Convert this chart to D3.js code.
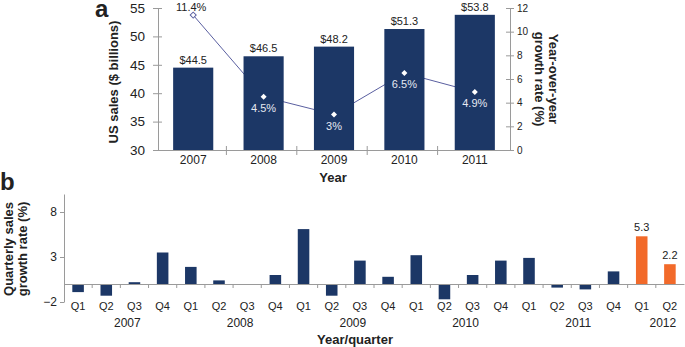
<!DOCTYPE html>
<html>
<head>
<meta charset="utf-8">
<script src="https://cdn.jsdelivr.net/npm/d3@7"></script>
<style>
  body { margin: 0; background: #fff; }
  svg text { font-family: "Liberation Sans", Arial, sans-serif; fill: #222; }
</style>
</head>
<body>
<svg id="chart" width="685" height="347"></svg>
<script>
// panel a data
const years = ["2007", "2008", "2009", "2010", "2011"];
const sales = [44.5, 46.5, 48.2, 51.3, 53.8];      // US sales, $ billions
const growth = [11.4, 4.5, 3, 6.5, 4.9];            // year-over-year %
const salesTicks = [30, 35, 40, 45, 50, 55];
const rateTicks = [0, 2, 4, 6, 8, 10, 12];

// panel b data
const qYears = ["2007", "2008", "2009", "2010", "2011", "2012"];
const qNames = ["Q1", "Q2", "Q3", "Q4"];
const qGrowth = [-0.9, -1.3, 0.2, 3.5,  1.9, 0.4, 0, 1.0,  6.1, -1.3, 2.6, 0.8,
                 3.2, -1.7, 1.0, 2.6,  2.9, -0.4, -0.6, 1.4,  5.3, 2.2];
const qTicks = [-2, 3, 8];

const navy = "#1c3766", orange = "#f26a2a", axisCol = "#9a9a9a";
const svg = d3.select("#chart");

// ---------- panel a ----------
let x = d3.scaleBand().domain(years).range([158, 510]).paddingInner(0.43).paddingOuter(0.215);
let yL = d3.scaleLinear().domain([30, 55]).range([150, 8]);
let yR = d3.scaleLinear().domain([0, 12]).range([150, 8]);

let rows = years.map((y, i) => ({year: y, sales: sales[i], growth: growth[i]}));

// growth line sits behind the bars
svg.append("path")
  .datum(rows)
  .attr("fill", "none")
  .attr("stroke", "#5a5fa0")
  .attr("stroke-width", 1)
  .attr("d", d3.line().x(d => x(d.year) + x.bandwidth() / 2).y(d => yR(d.growth)));

svg.append("g").selectAll("rect")
  .data(rows)
  .join("rect")
  .attr("x", d => x(d.year))
  .attr("width", x.bandwidth())
  .attr("y", d => yL(d.sales))
  .attr("height", d => yL(30) - yL(d.sales))
  .attr("fill", navy);

svg.append("g").selectAll("text")
  .data(rows)
  .join("text")
  .attr("x", d => x(d.year) + x.bandwidth() / 2)
  .attr("y", d => yL(d.sales) - 4)
  .attr("text-anchor", "middle")
  .attr("font-size", 11)
  .text(d => "$" + d.sales);

// diamonds (squares turned 45deg)
svg.append("g").selectAll("path")
  .data(rows)
  .join("path")
  .attr("transform", d => `translate(${x(d.year) + x.bandwidth() / 2},${yR(d.growth)}) rotate(45)`)
  .attr("d", d3.symbol(d3.symbolSquare, 18))
  .attr("fill", "#fff")
  .attr("stroke", (d, i) => i == 0 ? "#5a5fa0" : "none")
  .attr("stroke-width", 1);

svg.append("g").selectAll("text")
  .data(rows)
  .join("text")
  .attr("x", (d, i) => x(d.year) + x.bandwidth() / 2 - (i == 0 ? 2 : 0))
  .attr("y", (d, i) => i == 0 ? yR(d.growth) - 4 : yR(d.growth) + 15)
  .attr("text-anchor", "middle")
  .attr("font-size", 11)
  .style("fill", (d, i) => i == 0 ? "#222" : "#e6e9f2")
  .text(d => d.growth + "%");

// left axis
let axL = svg.append("g").attr("transform", "translate(158,0)")
  .call(d3.axisLeft(yL).tickValues(salesTicks).tickSize(5).tickPadding(8));
axL.selectAll(".tick line").attr("x1", -5).attr("x2", 4);
axL.selectAll(".tick text").attr("font-size", 13.5);

// right axis
let axR = svg.append("g").attr("transform", "translate(510,0)")
  .call(d3.axisRight(yR).tickValues(rateTicks).tickSize(4).tickPadding(3));
axR.selectAll(".tick line").attr("x1", -4).attr("x2", 4);
axR.selectAll(".tick text").attr("font-size", 10);

// bottom axis with ticks between years
let axB = svg.append("g").attr("transform", "translate(0,150)")
  .call(d3.axisBottom(x).tickSize(0).tickPadding(5).tickSizeOuter(0));
axB.selectAll(".tick text").attr("font-size", 12);
axB.selectAll(".bound")
  .data(years.slice(1))
  .join("line")
  .attr("x1", d => x(d) - x.step() * 0.43 / 2 - 2)
  .attr("x2", d => x(d) - x.step() * 0.43 / 2 - 2)
  .attr("y1", -4).attr("y2", 5);

for (let g of [axL, axR, axB]) {
  g.attr("font-family", null);
  g.selectAll("path, line").attr("stroke", axisCol);
}

svg.append("text").attr("x", 333).attr("y", 182).attr("text-anchor", "middle")
  .attr("font-size", 13).attr("font-weight", "bold").text("Year");

svg.append("text").attr("transform", "translate(118,82) rotate(-90)")
  .attr("text-anchor", "middle").attr("font-size", 13).attr("font-weight", "bold")
  .text("US sales ($ billions)");

let rt = svg.append("text").attr("transform", "translate(549,79) rotate(90)")
  .attr("text-anchor", "middle").attr("font-size", 13).attr("font-weight", "bold");
rt.append("tspan").attr("x", 0).attr("dy", 0).text("Year-over-year");
rt.append("tspan").attr("x", 0).attr("dy", 14).text("growth rate (%)");

svg.append("text").attr("x", 95).attr("y", 17).attr("font-size", 24)
  .attr("font-weight", "bold").text("a");

// ---------- panel b ----------
let qRows = qGrowth.map((v, i) => ({
  key: qYears[Math.floor(i / 4)] + "-" + qNames[i % 4],
  q: qNames[i % 4],
  year: qYears[Math.floor(i / 4)],
  v: v,
  hl: Math.floor(i / 4) == 5
}));

let xq = d3.scaleBand().domain(qRows.map(d => d.key)).range([64, 684]).paddingInner(0.59).paddingOuter(0.295);
let yq = d3.scaleLinear().domain([-2, 10]).range([302, 194]);

svg.append("g").selectAll("rect")
  .data(qRows)
  .join("rect")
  .attr("x", d => xq(d.key))
  .attr("width", xq.bandwidth())
  .attr("y", d => yq(Math.max(0, d.v)))
  .attr("height", d => Math.abs(yq(d.v) - yq(0)))
  .attr("fill", d => d.hl ? orange : navy);

svg.append("g").selectAll("text")
  .data(qRows.filter(d => d.hl))
  .join("text")
  .attr("x", d => xq(d.key) + xq.bandwidth() / 2)
  .attr("y", d => yq(d.v) - 5)
  .attr("text-anchor", "middle")
  .attr("font-size", 11)
  .text(d => d.v);

let axQ = svg.append("g").attr("transform", "translate(64,0)")
  .call(d3.axisLeft(yq).tickValues(qTicks).tickSize(4).tickPadding(3).tickSizeOuter(0));
axQ.selectAll(".tick text").attr("font-size", 12);

let axX = svg.append("g").attr("transform", `translate(0,${yq(0)})`)
  .call(d3.axisBottom(xq).tickSize(0).tickPadding(18).tickSizeOuter(0).tickFormat(k => k.slice(5)));
axX.selectAll(".tick text").attr("font-size", 11);
axX.selectAll(".bound")
  .data(qRows.slice(1))
  .join("line")
  .attr("x1", d => xq(d.key) - xq.step() * 0.59 / 2)
  .attr("x2", d => xq(d.key) - xq.step() * 0.59 / 2)
  .attr("y1", 0).attr("y2", 4);

for (let g of [axQ, axX]) {
  g.attr("font-family", null);
  g.selectAll("path, line").attr("stroke", axisCol);
}

// year group labels under the quarters
svg.append("g").selectAll("text")
  .data(qYears)
  .join("text")
  .attr("x", yr => {
    let ks = qRows.filter(d => d.year == yr);
    return (xq(ks[0].key) + xq(ks[ks.length - 1].key) + xq.bandwidth()) / 2 + 7;
  })
  .attr("y", 327)
  .attr("text-anchor", "middle")
  .attr("font-size", 12)
  .text(d => d);

svg.append("text").attr("x", 355).attr("y", 344).attr("text-anchor", "middle")
  .attr("font-size", 13).attr("font-weight", "bold").text("Year/quarter");

let lt = svg.append("text").attr("transform", "translate(13,249) rotate(-90)")
  .attr("text-anchor", "middle").attr("font-size", 13).attr("font-weight", "bold");
lt.append("tspan").attr("x", 0).attr("dy", 0).text("Quarterly sales");
lt.append("tspan").attr("x", 0).attr("dy", 14).text("growth rate (%)");

svg.append("text").attr("x", 0).attr("y", 190).attr("font-size", 24)
  .attr("font-weight", "bold").text("b");
</script>
</body>
</html>
